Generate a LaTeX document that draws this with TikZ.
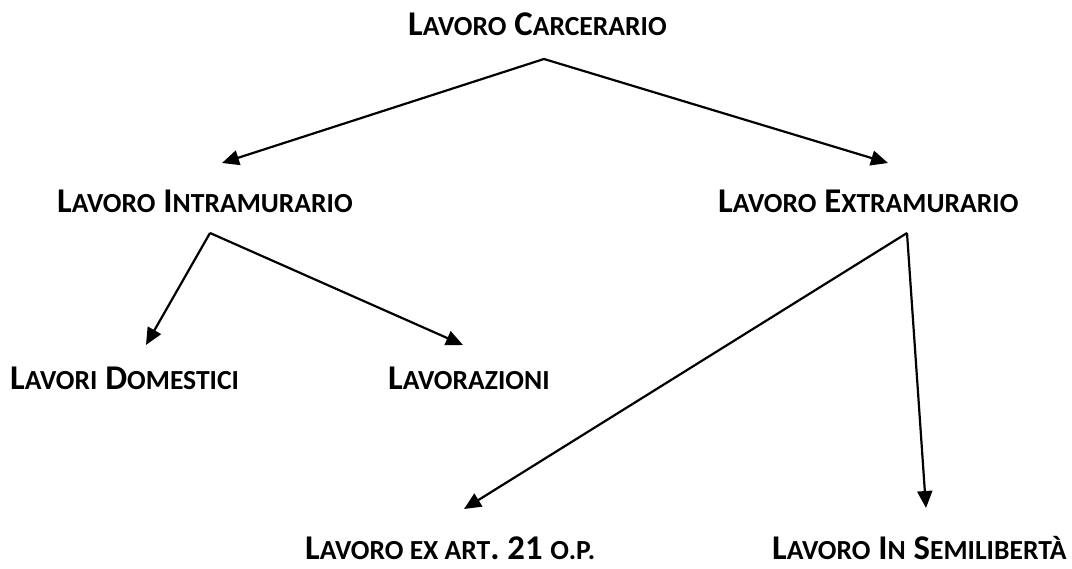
\documentclass[tikz,border=0pt]{standalone}
\usepackage{fontspec}
\setmainfont{Carlito}
\usetikzlibrary{arrows.meta}
\newcommand\bigf{\fontsize{34.7}{40}\selectfont}
\newcommand\smf{\fontsize{27.6}{32}\selectfont}
\newcommand\sk[1]{{\smf #1}}
\tikzset{
  lbl/.style={anchor=base west, inner sep=0pt, font=\bfseries\bigf},
  arr/.style={line width=2.2pt, -{Triangle[length=17pt,width=15pt]}}
}
\begin{document}
\begin{tikzpicture}[x=1pt,y=-1pt]
\useasboundingbox (0,0) rectangle (1072,569);
\node[lbl] (carc) at (408,36) {L\sk{AVORO} C\sk{ARCERARIO}};
\node[lbl] (intra) at (57,213) {L\sk{AVORO} I\sk{NTRAMURARIO}};
\node[lbl] (extra) at (718,213) {L\sk{AVORO} E\sk{XTRAMURARIO}};
\node[lbl] (dom) at (10,390) {L\sk{AVORI} D\sk{OMESTICI}};
\node[lbl] (lavz) at (388,390) {L\sk{AVORAZIONI}};
\node[lbl] (art) at (305,559) {L\sk{AVORO EX ART}. 21 \sk{O.P.}};
\node[lbl] (semi) at (772,559) {L\sk{AVORO} I\sk{N} S\sk{EMILIBERTÀ}};
\coordinate (c0) at (544,59);
\coordinate (i0) at (210,233);
\coordinate (e0) at (907,233);
\coordinate (ti) at (222,163);
\coordinate (te) at (888,163);
\coordinate (td) at (146,345);
\coordinate (tl) at (463,345);
\coordinate (ta) at (464,509);
\coordinate (ts) at (926,508);
\draw[arr] (c0) -- (ti);
\draw[arr] (c0) -- (te);
\draw[arr] (i0) -- (td);
\draw[arr] (i0) -- (tl);
\draw[arr] (e0) -- (ta);
\draw[arr] (e0) -- (ts);
\end{tikzpicture}
\end{document}
